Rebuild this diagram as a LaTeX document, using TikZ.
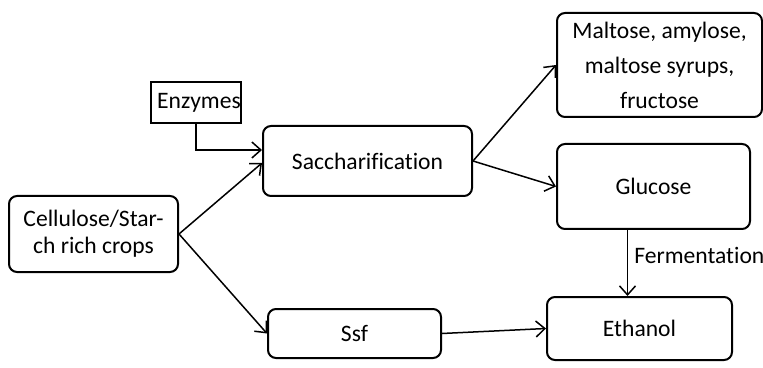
\documentclass[tikz,border=0pt]{standalone}
\usepackage{fontspec}
\setmainfont{Carlito}[Ligatures=NoCommon]
\usetikzlibrary{arrows.meta}
\tikzset{
  box/.style={draw,line width=1pt,rounded corners=4pt,align=center,inner sep=0pt,font=\fontsize{11.8}{13.5}\selectfont},
  flow/.style={line width=0.75pt,-{Straight Barb[length=4.5pt,width=8pt]}}
}
\begin{document}
\begin{tikzpicture}[x=0.5pt,y=-0.5pt]
\useasboundingbox (0,0) rectangle (763,368);
\node[box,rounded corners=0pt,minimum width=43pt,minimum height=20.5pt] (enz) at (196,102.5) {\hspace*{3pt}Enzymes};
\node[box,minimum width=104.5pt,minimum height=35pt] (sacc) at (367.5,161) {Saccharification};
\node[box,minimum width=84.5pt,minimum height=38pt] (crops) at (93.5,234) {Cellulose/Star-\\ch rich crops};
\node[box,minimum width=102.5pt,minimum height=52pt,font=\fontsize{11.8}{17.5}\selectfont] (malt) at (659.5,65) {Maltose, amylose,\\maltose syrups,\\fructose};
\node[box,minimum width=96.5pt,minimum height=42.5pt] (gluc) at (653.5,186.5) {Glucose};
\node[box,minimum width=92.5pt,minimum height=31.5pt] (eth) at (639.5,328.5) {Ethanol};
\node[box,minimum width=86.5pt,minimum height=24.5pt] (ssf) at (354.5,333.5) {Ssf};
\draw[flow] (enz.south) |- ([yshift=5.5pt]sacc.west);
\draw[flow] (crops.east) -- ([yshift=-1pt]sacc.west);
\draw[flow] (crops.east) -- (ssf.west);
\draw[flow] (sacc.east) -- (malt.west);
\draw[flow] (sacc.east) -- (gluc.west);
\draw[flow] ([xshift=-6pt]eth.north |- gluc.south) -- ([xshift=-6pt]eth.north)
  node[midway,right,yshift=4pt,inner sep=3pt,font=\fontsize{11.8}{13.5}\selectfont] {Fermentation};
\draw[flow] (ssf.east) -- (eth.west);
\end{tikzpicture}
\end{document}
